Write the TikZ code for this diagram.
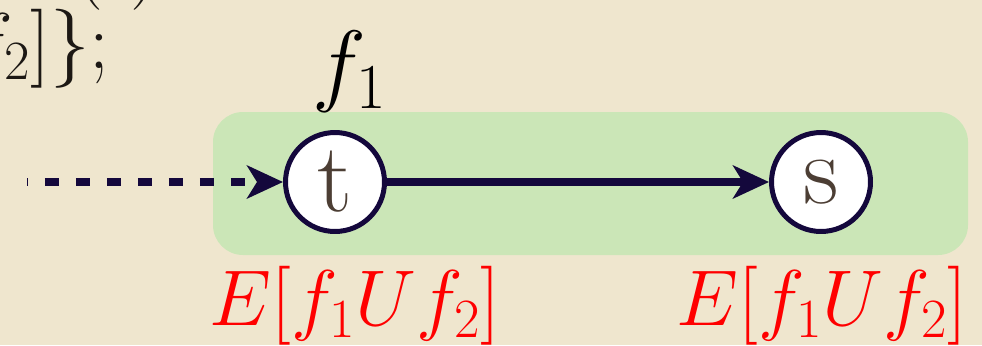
\RequirePackage{fix-cm}
\documentclass[tikz,border=0pt]{standalone}
\usepackage{amsmath}
\usepackage{tikz}
\usetikzlibrary{arrows.meta,positioning}
\definecolor{parchment}{RGB}{239,230,206}
\definecolor{boxgreen}{RGB}{203,230,183}
\definecolor{navy}{RGB}{20,8,60}
\definecolor{letter}{RGB}{76,62,52}
\definecolor{ink}{RGB}{28,24,20}

\begin{document}
\begin{tikzpicture}[x=0.02cm,y=-0.02cm,
  state/.style={circle,draw=navy,fill=white,line width=0.1cm,minimum size=1.98cm,
    inner sep=0pt,text=letter,font=\fontsize{56}{64}\selectfont},
  trans/.style={draw=navy,line width=0.16cm,
    -{Stealth[length=0.72cm,width=0.66cm,inset=0.2cm]}},
  pending/.style={trans,dash pattern=on 0.28cm off 0.34cm,dash phase=0.26cm},
  lab/.style={red,inner sep=0pt,font=\fontsize{45}{54}\selectfont},
  code/.style={text=ink,inner sep=0pt,font=\fontsize{45}{54}\selectfont}]
%page
\useasboundingbox (0,0) rectangle (982,345);
\clip (0,0) rectangle (982,345);
\fill[parchment] (0,0) rectangle (982,345);
%code lines cut off by the page
\node[code,anchor=base] (prev) at (117,-10) {$(t)$};
\node[code,anchor=base east] (line) at (110,68) {$f_2]\}$;};
%the region f_1
\fill[boxgreen,rounded corners=0.6cm] (213,112) rectangle (968,255);
%states
\node[state] (t) at (335,182) {t};
\node[state] (s) at (821,182) {s};
\coordinate (in) at (27,182);
%transitions
\draw[pending] (in) -- (t);
\draw[trans] (t) -- (s);
%labels
\node[inner sep=0pt,font=\fontsize{52}{60}\selectfont,above=0.34cm of t,xshift=0.3cm] (f1) {$f_1$};
\node[lab,below=0.64cm of t,xshift=0.4cm] (lt) {$E[f_1U f_2]$};
\node[lab,below=0.64cm of s,xshift=0.02cm] (ls) {$E[f_1U f_2]$};
\end{tikzpicture}
\end{document}
